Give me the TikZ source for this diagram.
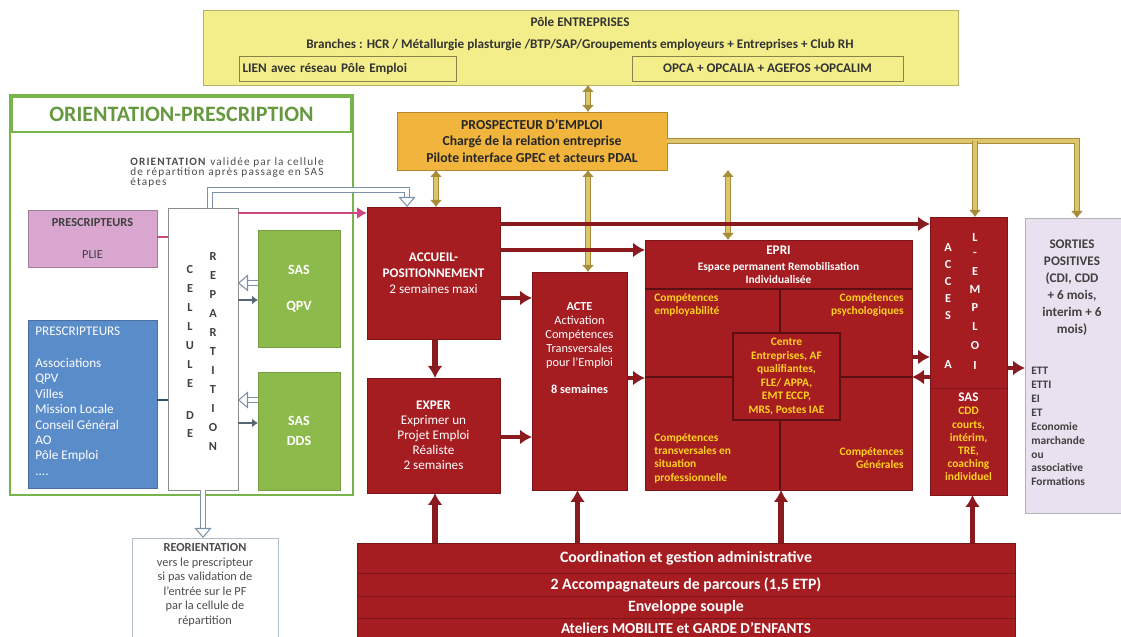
\documentclass[tikz,border=0pt]{standalone}
\usepackage{fontspec}
\setmainfont{Carlito}
\usetikzlibrary{
    arrows.meta,
    positioning
}

\definecolor{epired}{HTML}{A51C21}
\definecolor{linkred}{HTML}{8A1A1E}
\definecolor{poleyellow}{HTML}{F4EE8A}
\definecolor{prosporange}{HTML}{F1B53E}
\definecolor{tanfill}{HTML}{DCC56C}
\definecolor{tanedge}{HTML}{A78D38}
\definecolor{sasgreen}{HTML}{8CBA4B}
\definecolor{framegreen}{HTML}{78B44A}
\definecolor{pinkbox}{HTML}{D8A6CE}
\definecolor{pinkline}{HTML}{CC4A80}
\definecolor{bluebox}{HTML}{5B8CCA}
\definecolor{lavender}{HTML}{E9E1EF}
\definecolor{goldtxt}{HTML}{FFD21F}
\definecolor{hollowblue}{HTML}{7D92A8}

\begin{document}
\begin{tikzpicture}[
x=1cm, y=-1cm,
box/.style={
draw,
anchor=north west,
inner sep=1pt,
outer sep=0pt,
align=center
},
redbox/.style={box, draw=epired!75!black, fill=epired, text=white,
font=\fontsize{7.5}{9}\selectfont\bfseries},
greenbox/.style={box, draw=sasgreen!85!black, fill=sasgreen, text=white,
font=\fontsize{8}{9.6}\selectfont\bfseries},
poletext/.style={text=black!80, font=\fontsize{7.5}{9}\selectfont\bfseries, inner sep=0pt},
whitetext/.style={text=white, align=center, inner sep=0pt},
goldtext/.style={text=goldtxt, font=\fontsize{6.5}{7.6}\selectfont\bfseries, inner sep=0pt},
letter/.style={text=#1, font=\fontsize{7}{7}\selectfont\bfseries, inner sep=0pt},
redlink/.style={draw=linkred, line width=2.4pt, -{Latex[length=2.4mm,width=3mm]}},
tanlink/.style={draw=tanedge, double=tanfill, line width=0.5pt, double distance=2.2pt,
{Latex[length=1.4mm,width=2.4mm]}-{Latex[length=1.4mm,width=2.4mm]}},
tanend/.style={draw=tanedge, double=tanfill, line width=0.5pt, double distance=2.2pt,
-{Latex[length=1.4mm,width=2.4mm]}},
hollowlink/.style={draw=hollowblue, double=white, line width=0.6pt, double distance=1.8pt,
-{Triangle[open,length=2mm,width=3.4mm]}},
thinlink/.style={draw=#1, line width=0.8pt}
]
\useasboundingbox (0,0) rectangle (22.42,12.74);

% Pole entreprises
\node[box, draw=poleyellow!75!black, fill=poleyellow,
minimum width=15.1cm, minimum height=1.5cm] (pole) at (4.06,0.2) {};
\node[poletext] (poletitle) at (11.6,0.44) {Pôle ENTREPRISES};
\node[poletext] (branches) at (11.6,0.9)
{Branches : HCR / Métallurgie plasturgie /BTP/SAP/Groupements employeurs + Entreprises + Club RH};
\node[box, draw=poleyellow!55!black, thin, text width=4.2cm, align=left,
minimum height=0.5cm, inner sep=2pt, font=\fontsize{7.5}{9}\selectfont\bfseries,
text=black!80] (lien) at (4.78,1.12) {LIEN avec réseau Pôle Emploi};
\node[box, draw=poleyellow!55!black, thin, minimum width=5.42cm,
minimum height=0.5cm, font=\fontsize{7.5}{9}\selectfont\bfseries,
text=black!80] (opca) at (12.64,1.12) {OPCA + OPCALIA + AGEFOS +OPCALIM};

% orientation - prescription
\node[box, draw=framegreen, line width=1.4pt,
minimum width=6.86cm, minimum height=8.0cm] (orientframe) at (0.2,1.9) {};
\node[box, draw=framegreen, line width=1.2pt, minimum width=6.78cm,
minimum height=0.7cm, text=framegreen!85!black,
font=\fontsize{12.5}{14}\selectfont\bfseries] (orienttitle) at (0.24,1.94)
{ORIENTATION-PRESCRIPTION};
\node[anchor=north west, inner sep=0pt, align=left, text=black!70,
font=\fontsize{6.4}{5.9}\selectfont\addfontfeatures{LetterSpace=10}] (orienttxt) at (2.6,3.14)
{\textbf{ORIENTATION} validée par la cellule\\de répartition après passage en SAS\\étapes};

\node[box, draw=pinkbox!75!black, fill=pinkbox, minimum width=2.58cm,
minimum height=1.14cm, text=black!75,
font=\fontsize{7}{8.4}\selectfont\bfseries] (prescpink) at (0.56,4.2)
{PRESCRIPTEURS\\[9.6pt]{\mdseries PLIE}};

\node[box, draw=bluebox!80!black, fill=bluebox,
minimum width=2.58cm, minimum height=3.36cm] (prescblue) at (0.56,6.4) {};
\node[anchor=north west, inner sep=0pt, align=left, text=white,
font=\fontsize{7.5}{8.8}\selectfont] (prescbluetxt) at (0.7,6.54)
{PRESCRIPTEURS\\[9pt]Associations\\QPV\\Villes\\Mission Locale\\Conseil Général\\AO\\Pôle Emploi\\....};

\node[box, draw=black!45, fill=white, minimum width=1.4cm,
minimum height=5.64cm] (cellule) at (3.36,4.16) {};
\foreach \ch [count=\i from 0] in {C,E,L,L,U,L,E}
\node[letter=black!75] (cl\i) at (3.8,5.4+0.38*\i) {\ch};
\node[letter=black!75] (cld) at (3.8,8.32) {D};
\node[letter=black!75] (cle) at (3.8,8.68) {E};
\foreach \ch [count=\i from 0] in {R,E,P,A,R,T,I,T,I,O,N}
\node[letter=black!75] (cr\i) at (4.26,5.14+0.38*\i) {\ch};

\node[greenbox, minimum width=1.64cm, minimum height=2.34cm] (sasqpv) at (5.16,4.6)
{SAS\\[11pt]QPV};
\node[greenbox, minimum width=1.64cm, minimum height=2.36cm] (sasdds) at (5.16,7.44)
{SAS\\[1.8pt]DDS};

\node[box, draw=hollowblue!60, minimum width=2.92cm, minimum height=2.3cm]
(reorient) at (2.64,10.76) {};
\node[anchor=north, inner sep=0pt, align=center, text=black!70,
font=\fontsize{7}{8.3}\selectfont] (reorienttxt) at (4.1,10.86)
{\textbf{REORIENTATION}\\vers le prescripteur\\si pas validation de\\l'entrée sur le PF\\par la cellule de\\répartition};

% prospecteur
\node[box, draw=prosporange!75!black, fill=prosporange,
minimum width=5.4cm, minimum height=1.16cm, text=black!85,
font=\fontsize{7.8}{9.2}\selectfont\bfseries] (prosp) at (7.94,2.24)
{PROSPECTEUR D'EMPLOI\\Chargé de la relation entreprise\\Pilote interface GPEC et acteurs PDAL};

% parcours
\node[redbox, minimum width=2.66cm, minimum height=2.64cm] (accueil) at (7.34,4.14)
{ACCUEIL-\\POSITIONNEMENT\\{\mdseries 2 semaines maxi}};
\node[redbox, minimum width=2.66cm, minimum height=2.3cm,
font=\fontsize{7.5}{8.6}\selectfont] (exper) at (7.34,7.56)
{\textbf{EXPER}\\Exprimer un\\Projet Emploi\\Réaliste\\2 semaines};
\node[redbox, minimum width=1.9cm, minimum height=4.36cm] (acte) at (10.64,5.44) {};
\node[whitetext, anchor=north, font=\fontsize{7}{8}\selectfont] (actetxt) at (11.59,6.04)
{\textbf{ACTE}\\Activation\\Compétences\\Transversales\\pour l'Emploi\\[7pt]\textbf{8 semaines}};

\node[redbox, minimum width=5.34cm, minimum height=5.0cm] (epri) at (12.9,4.8) {};
\node[whitetext, anchor=north, font=\fontsize{6.5}{7}\selectfont\bfseries] (epritxt)
at (15.57,4.92) {{\fontsize{7.5}{9}\selectfont EPRI}\\[2pt]Espace permanent Remobilisation\\Individualisée};
\draw[epired!55!black, thick] (epri.west |- 0,5.78) -- (epri.east |- 0,5.78);
\draw[epired!55!black, thick] (15.6,0 |- 0,5.78) -- (15.6,0 |- epri.south);
\draw[epired!55!black, thick] (epri.west |- 0,7.54) -- (epri.east |- 0,7.54);
\node[box, draw=epired!55!black, thick, fill=epired, minimum width=2.14cm,
minimum height=1.74cm, text=goldtxt, font=\fontsize{6.5}{7.7}\selectfont\bfseries]
(centre) at (14.66,6.66)
{Centre\\Entreprises, AF\\qualifiantes,\\FLE/ APPA,\\EMT ECCP,\\MRS, Postes IAE};
\node[goldtext, anchor=north west, align=left] (qtl) at (13.08,5.86)
{Compétences\\employabilité};
\node[goldtext, anchor=north east, align=right] (qtr) at (18.08,5.86)
{Compétences\\psychologiques};
\node[goldtext, anchor=north west, align=left] (qbl) at (13.08,8.66)
{Compétences\\transversales en\\situation\\professionnelle};
\node[goldtext, anchor=north east, align=right] (qbr) at (18.08,8.94)
{Compétences\\Générales};

\node[redbox, minimum width=1.54cm, minimum height=3.42cm] (acces) at (18.6,4.34) {};
\foreach \ch/\yy in {A/4.96,C/5.3,C/5.64,E/5.98,S/6.32,A/7.3}
\node[letter=white] at (18.96,\yy) {\ch};
\foreach \ch/\yy in {L/4.76,-/5.08,E/5.44,M/5.8,P/6.16,L/6.54,O/6.92,I/7.32}
\node[letter=white] at (19.5,\yy) {\ch};
\node[redbox, minimum width=1.54cm, minimum height=2.14cm] (accessas) at (18.6,7.76) {};
\node[goldtext, anchor=north, align=center, font=\fontsize{6.5}{7.4}\selectfont\bfseries]
(accessastxt) at (19.37,7.86)
{{\color{white}\fontsize{7.5}{8}\selectfont SAS}\\CDD\\courts,\\intérim,\\TRE,\\coaching\\individuel};

\node[box, draw=black!30, fill=lavender, minimum width=1.92cm,
minimum height=5.9cm] (sorties) at (20.5,4.36) {};
\node[anchor=north, inner sep=0pt, align=center, text=black!75,
font=\fontsize{7.5}{9.6}\selectfont\bfseries] (sortiestitle) at (21.44,4.8)
{SORTIES\\POSITIVES\\(CDI, CDD\\+ 6 mois,\\interim + 6\\mois)};
\node[anchor=north west, inner sep=0pt, align=left, text=black!75,
font=\fontsize{6.5}{7.9}\selectfont\bfseries] (sortieslist) at (20.62,7.34)
{ETT\\ETTI\\EI\\ET\\Economie\\marchande\\ou\\associative\\Formations};

% coordination
\node[redbox, minimum width=13.16cm, minimum height=0.6cm, font=\fontsize{9}{10}\selectfont\bfseries]
(coord) at (7.14,10.86) {Coordination et gestion administrative};
\node[redbox, minimum width=13.16cm, minimum height=0.46cm, font=\fontsize{9}{10}\selectfont\bfseries]
(accomp) at (7.14,11.46) {2 Accompagnateurs de parcours (1,5 ETP)};
\node[redbox, minimum width=13.16cm, minimum height=0.44cm, font=\fontsize{9}{10}\selectfont\bfseries]
(enveloppe) at (7.14,11.92) {Enveloppe souple};
\node[redbox, minimum width=13.16cm, minimum height=0.4cm, inner sep=0pt,
font=\fontsize{8.6}{9}\selectfont\bfseries]
(ateliers) at (7.14,12.36) {Ateliers MOBILITE et GARDE D'ENFANTS};

% liens prospecteur
\draw[tanlink] (11.76,0 |- prosp.north) -- (11.76,0 |- pole.south);
\draw[tanlink] (8.72,0 |- prosp.south) -- (8.72,0 |- accueil.north);
\draw[tanlink] (11.76,0 |- prosp.south) -- (11.76,0 |- acte.north);
\draw[tanlink] (14.56,0 |- prosp.south) -- (14.56,0 |- epri.north);
\coordinate (tanjoin) at (19.5,0 |- prosp.east);
\draw[tanend] (prosp.east) -- (21.54,0 |- prosp.east) -- (21.54,0 |- sorties.north);
\draw[tanend] (tanjoin) -- (tanjoin |- acces.north);

% liens orientation
\draw[thinlink=pinkline] (prescpink.east |- 0,4.74) -- (cellule.west |- 0,4.74);
\draw[thinlink=bluebox!55!black] (prescblue.east |- 0,8.0) -- (cellule.west |- 0,8.0);
\draw[hollowlink] (sasqpv.west |- 0,5.66) -- (cellule.east |- 0,5.66);
\draw[thinlink=hollowblue!70!black, -{Latex[length=1.2mm,width=1.8mm]}]
(cellule.east |- 0,6.0) -- (sasqpv.west |- 0,6.0);
\draw[hollowlink] (sasdds.west |- 0,8.0) -- (cellule.east |- 0,8.0);
\draw[thinlink=hollowblue!70!black, -{Latex[length=1.2mm,width=1.8mm]}]
(cellule.east |- 0,8.46) -- (sasdds.west |- 0,8.46);
\draw[thinlink=pinkline, line width=1.1pt, -{Latex[length=2mm,width=2.4mm]}]
(cellule.east |- 0,4.26) -- (accueil.west |- 0,4.26);
\draw[hollowlink] (4.2,0 |- cellule.north) |- (8.14,3.8) -- (8.14,0 |- accueil.north);
\draw[hollowlink] (cellule.south) -- (cellule.south |- reorient.north);

% liens parcours
\draw[redlink] (accueil.east |- 0,4.48) -- (acces.west |- 0,4.48);
\draw[redlink] (accueil.east |- 0,5.0) -- (epri.west |- 0,5.0);
\draw[redlink] (accueil.east |- 0,5.96) -- (acte.west |- 0,5.96);
\draw[redlink] (exper.east |- 0,8.74) -- (acte.west |- 0,8.74);
\draw[redlink, line width=3pt] (8.7,0 |- accueil.south) -- (8.7,0 |- exper.north);
\draw[redlink] (acte.east |- 0,7.56) -- (epri.west |- 0,7.56);
\draw[redlink] (epri.east |- 0,7.14) -- (acces.west |- 0,7.14);
\draw[redlink] (acces.west |- 0,7.54) -- (epri.east |- 0,7.54);
\draw[redlink] (acces.east |- 0,7.36) -- (sorties.west |- 0,7.36);
\foreach \xx/\target in {8.7/exper, 11.55/acte, 15.62/epri, 19.45/accessas}
\draw[redlink, line width=3pt] (\xx,0 |- coord.north) -- (\xx,0 |- \target.south);

\end{tikzpicture}
\end{document}
